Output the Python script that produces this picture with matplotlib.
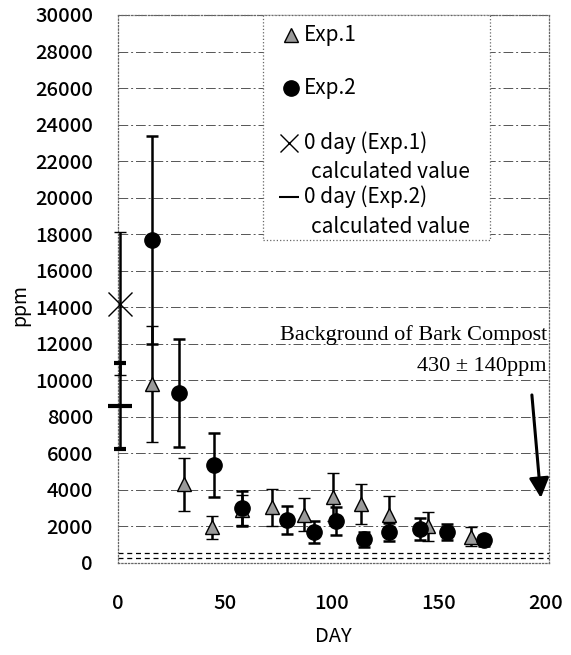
import matplotlib
matplotlib.use("Agg")
import matplotlib.pyplot as plt
from matplotlib.patches import Rectangle

plt.rcParams['font.family'] = ['Noto Sans CJK JP', 'DejaVu Sans']

# ---- data ----
exp1_day = [16, 31, 44, 58, 72, 87, 100.5, 113.5, 126.5, 145, 165]
exp1_ppm = [9800, 4300, 1950, 2900, 3050, 2650, 3600, 3250, 2650, 2000, 1450]
exp1_err = [3150, 1450, 650, 800, 1000, 900, 1300, 1100, 1000, 800, 500]

exp2_day = [16, 28.5, 45, 58, 79, 91.5, 102, 115, 126.5, 141, 154, 171]
exp2_ppm = [17700, 9300, 5350, 3000, 2350, 1700, 2300, 1300, 1700, 1850, 1700, 1250]
exp2_err = [5700, 2950, 1750, 950, 750, 600, 750, 400, 500, 600, 450, 300]

day0_x = 1
calc1_ppm, calc1_err = 14200, 3900
calc2_ppm, calc2_err = 8600, 2350

background_lines = [570, 290]

xticks = [0, 50, 100, 150, 200]
yticks = list(range(0, 30001, 2000))

legend_labels = ["Exp.1", "Exp.2", "0 day (Exp.1)", "0 day (Exp.2)", "calculated value"]
note1 = "Background of Bark Compost"
note2 = "430 \u00b1 140ppm"

# ---- figure ----
W, H = 571, 655
fig = plt.figure(figsize=(W / 100, H / 100), dpi=100)
ax = fig.add_axes([118 / W, 1 - 563 / H, (549 - 118) / W, (563 - 15) / H])
ax.set_xlim(0, 201.5)
ax.set_ylim(0, 30000)

ax.set_xticks(xticks)
ax.set_yticks(yticks)
ax.set_yticklabels([str(v) for v in yticks])
ax.tick_params(axis='both', length=0, labelsize=14.5)
ax.tick_params(axis='y', pad=18)
ax.tick_params(axis='x', pad=22)
for lab in ax.get_xticklabels() + ax.get_yticklabels():
    lab.set_fontweight('medium')

ax.set_axisbelow(True)
ax.yaxis.grid(True, color='#555555', lw=0.7, linestyle=(0, (10, 3, 2, 3)))
for sp in ax.spines.values():
    sp.set_linestyle(':')
    sp.set_color('#666666')
    sp.set_linewidth(0.9)

for v in background_lines:
    ax.axhline(v, color='k', lw=0.9, linestyle=(0, (4, 3)), zorder=1)

ebkw = dict(ecolor='k', elinewidth=1.8, capsize=4, capthick=1.8, zorder=3)

# 0-day calculated values
for ppm, err, mk, ms, mew in [(calc1_ppm, calc1_err, 'x', 17, 1.0),
                              (calc2_ppm, calc2_err, '_', 17, 3)]:
    cont = ax.errorbar([day0_x], [ppm], yerr=[err], fmt=mk, ms=ms, mew=mew,
                       color='k', **ebkw)
    arts = [cont.lines[0]] + list(cont.lines[1]) + list(cont.lines[2])
    for art in arts:
        if art is not None:
            art.set_clip_on(False)

ax.errorbar(exp1_day, exp1_ppm, yerr=exp1_err, fmt='^', ms=10, mfc='#9a9a9a',
            mec='k', mew=1.0, **ebkw)
ax.errorbar(exp2_day, exp2_ppm, yerr=exp2_err, fmt='o', ms=11, mfc='k',
            mec='k', **ebkw)

# annotation
ax.text(200.5, 12480, note1, ha='right', va='center',
        family='Liberation Serif', fontsize=16, zorder=5)
ax.text(200.5, 10730, note2, ha='right', va='center',
        family='Liberation Serif', fontsize=16, zorder=5)
ax.annotate('', xy=(197.7, 3560), xytext=(193.5, 9200),
            arrowprops=dict(arrowstyle='-|>,head_length=0.8,head_width=0.4',
                            mutation_scale=15, lw=2.2, color='k',
                            shrinkA=0, shrinkB=0), zorder=5)

# legend (manual)
def ax_x(px):
    return (px - 118) / (549 - 118)

def ax_y(py):
    return (563 - py) / (563 - 15)

box = Rectangle((ax_x(263), ax_y(240)), ax_x(490) - ax_x(263), ax_y(15) - ax_y(240),
                transform=ax.transAxes, facecolor='white', edgecolor='#666666',
                lw=0.9, linestyle=':', zorder=6, clip_on=False)
ax.add_patch(box)

mx = ax_x(291)
tx = ax_x(304)
cx = ax_x(311)
lkw = dict(transform=ax.transAxes, clip_on=False, zorder=7)
ax.plot([mx], [ax_y(35)], marker='^', ms=10, mfc='#9a9a9a', mec='k', mew=1.0, ls='none', **lkw)
ax.plot([mx], [ax_y(88)], marker='o', ms=11, mfc='k', mec='k', ls='none', **lkw)
ax.plot([mx - 0.004], [ax_y(143)], marker='x', ms=13, mew=1.0, color='k', ls='none', **lkw)
ax.plot([mx - 0.004], [ax_y(197)], marker='_', ms=14, mew=1.5, color='k', ls='none', **lkw)

tkw = dict(transform=ax.transAxes, fontsize=15, va='center', ha='left', zorder=7)
ax.text(tx, ax_y(35), legend_labels[0], **tkw)
ax.text(tx, ax_y(88), legend_labels[1], **tkw)
ax.text(tx, ax_y(143), legend_labels[2], **tkw)
ax.text(cx, ax_y(172), legend_labels[4], **tkw)
ax.text(tx, ax_y(197), legend_labels[3], **tkw)
ax.text(cx, ax_y(227), legend_labels[4], **tkw)

fig.text(20 / W, 1 - 305 / H, 'ppm', rotation=90, ha='center', va='center', fontsize=14)
fig.text(333 / W, 1 - 636 / H, 'DAY', ha='center', va='center', fontsize=14.5)

fig.savefig('out.png', dpi=100)
